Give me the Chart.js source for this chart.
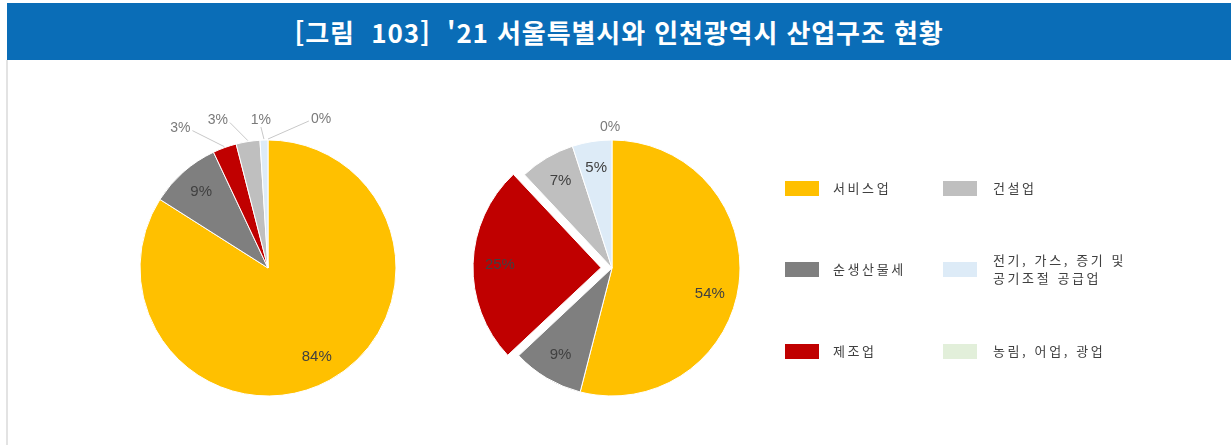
<!DOCTYPE html>
<html lang="ko">
<head>
<meta charset="utf-8">
<title>'21 서울특별시와 인천광역시 산업구조 현황</title>
<script src="https://cdn.jsdelivr.net/npm/chart.js@4.4.1/dist/chart.umd.min.js"></script>
<style>
  html, body { margin: 0; padding: 0; background: #ffffff; }
  #page { position: relative; width: 1231px; height: 445px; overflow: hidden; background: #fff; }
  #header {
    position: absolute; left: 7px; top: 3px; width: 1224px; height: 57px;
    background: #0a6db7; color: #fff;
    font-family: "Noto Sans CJK KR", "Noto Sans", sans-serif; font-weight: 700;
    font-size: 26px; line-height: 58px; text-align: center; white-space: pre;
    letter-spacing: 0.9px;
  }
  #rule { position: absolute; left: 6px; top: 60px; width: 2px; height: 385px; background: #e3e3e3; }
  canvas { position: absolute; }
  #cvSeoul { left: 28px; top: 60px; }
  #cvIncheon { left: 460px; top: 60px; }
  #legend { position: absolute; left: 0; top: 0; width: 1231px; height: 445px; pointer-events: none;
    font-family: "Noto Sans CJK KR", sans-serif; font-size: 13px; color: #404040; letter-spacing: 2.6px; }
  .sw { position: absolute; width: 34px; height: 15px; }
  .lt { position: absolute; line-height: 18px; white-space: nowrap; }
</style>
</head>
<body>
<div id="page">
  <div id="header"></div>
  <div id="rule"></div>
  <canvas id="cvSeoul" width="480" height="385"></canvas>
  <canvas id="cvIncheon" width="304" height="385"></canvas>
  <div id="legend"></div>
</div>
<script>
// Title
const chartTitle = "[그림  103]  '21 서울특별시와 인천광역시 산업구조 현황";

// Industry categories (pie order, clockwise from 12 o'clock)
const industries = [
  "서비스업",
  "순생산물세",
  "제조업",
  "건설업",
  "전기, 가스, 증기 및\n공기조절 공급업",
  "농림, 어업, 광업"
];

// Share of each industry (%)
const seoulShares   = [84, 9, 3, 3, 1, 0];
const incheonShares = [54, 9, 25, 7, 5, 0];

// Slice colours, one per industry
const sliceColors = ["#FFC000", "#7F7F7F", "#C00000", "#BFBFBF", "#DDEBF7", "#E2EFDA"];

document.getElementById('header').textContent = chartTitle;

// Draws the percentage labels: inside the slice for large shares,
// outside with a thin leader line for the small ones.
const sliceLabels = {
  id: 'sliceLabels',
  afterDatasetsDraw(chart, args, opts) {
    const ctx = chart.ctx;
    const meta = chart.getDatasetMeta(0);
    const values = chart.data.datasets[0].data;
    ctx.save();
    ctx.textAlign = 'center';
    ctx.textBaseline = 'middle';
    meta.data.forEach((arc, i) => {
      const p = arc.getProps(['x', 'y', 'startAngle', 'endAngle', 'outerRadius'], true);
      const mid = (p.startAngle + p.endAngle) / 2;
      const circ = p.endAngle - p.startAngle;
      const offs = (arc.options.offset || 0) / 4;
      const fix = 1 - Math.sin(Math.min(Math.PI, circ || 0));
      const shift = offs + offs * fix;
      const cx = p.x + Math.cos(mid) * shift;
      const cy = p.y + Math.sin(mid) * shift;
      const text = values[i] + '%';
      const out = opts.outside && opts.outside[i];
      if (out) {
        const ax = cx + Math.cos(mid) * (p.outerRadius + 1);
        const ay = cy + Math.sin(mid) * (p.outerRadius + 1);
        const lx = ax + out.dx, ly = ay + out.dy;
        ctx.font = opts.outFont;
        const w = ctx.measureText(text).width;
        if (out.leader) {
          let ex, ey;
          if (out.dx < -6) { ex = lx + w / 2 + 2; ey = ly + 2; }
          else if (out.dx > 6) { ex = lx - w / 2 - 2; ey = ly + 2; }
          else { ex = lx; ey = ly + 7; }
          ctx.strokeStyle = opts.leaderColor;
          ctx.lineWidth = 1;
          ctx.beginPath();
          ctx.moveTo(ex, ey);
          ctx.lineTo(ax, ay);
          ctx.stroke();
        }
        ctx.fillStyle = opts.outColor;
        ctx.fillText(text, lx, ly);
      } else if (values[i] > 0) {
        const r = p.outerRadius * opts.inside;
        const a = mid + (opts.turn && opts.turn[i] ? opts.turn[i] : 0);
        ctx.font = opts.inFont;
        ctx.fillStyle = opts.inColor;
        ctx.fillText(text, cx + Math.cos(a) * r, cy + Math.sin(a) * r);
      }
    });
    ctx.restore();
  }
};

const labelStyle = {
  inside: 0.79,
  inFont: '15px "Liberation Sans", Arial, sans-serif',
  inColor: '#404040',
  outFont: '14px "Liberation Sans", Arial, sans-serif',
  outColor: '#7a7a7a',
  leaderColor: '#c8c8c8'
};

function makePie(id, shares, offsets, outside, turn, padding) {
  return new Chart(document.getElementById(id), {
    type: 'pie',
    data: {
      labels: industries,
      datasets: [{
        data: shares,
        backgroundColor: sliceColors,
        borderColor: '#ffffff',
        borderWidth: 1,
        offset: offsets,
        radius: 128
      }]
    },
    options: {
      responsive: false,
      animation: false,
      layout: { padding: padding },
      plugins: {
        legend: { display: false },
        tooltip: { enabled: false },
        sliceLabels: Object.assign({ outside: outside, turn: turn }, labelStyle)
      },
      events: []
    },
    plugins: [sliceLabels]
  });
}

// Seoul: small slices labelled outside the pie
makePie('cvSeoul', seoulShares, [0, 0, 0, 0, 0, 0], {
  2: { dx: -44, dy: -18, leader: true },
  3: { dx: -30, dy: -20, leader: true },
  4: { dx: -3,  dy: -19, leader: true },
  5: { dx: 53,  dy: -20, leader: true }
}, null, { top: 31, bottom: 0, left: 0, right: 0 });

// Incheon: manufacturing slice pulled out of the pie
makePie('cvIncheon', incheonShares, [0, 0, 44, 0, 0, 0], {
  5: { dx: -2, dy: -12, leader: false }
}, { 0: 0.13 }, { top: 31, bottom: 0, left: 0, right: 0 });

// Legend: two columns, filled column by column
const legend = document.getElementById('legend');
const colX = [785, 943];
const rowY = [188, 269, 351];
industries.forEach((name, i) => {
  const col = Math.floor(i / 3), row = i % 3;
  const sw = document.createElement('div');
  sw.className = 'sw';
  sw.style.left = colX[col] + 'px';
  sw.style.top = (rowY[row] - 7) + 'px';
  sw.style.background = sliceColors[i];
  legend.appendChild(sw);
  const lines = name.split('\n');
  const t = document.createElement('div');
  t.className = 'lt';
  t.style.left = (colX[col] + 48 + col * 2) + 'px';
  t.style.top = (rowY[row] - lines.length * 9) + 'px';
  t.innerHTML = lines.join('<br>');
  legend.appendChild(t);
});
</script>
</body>
</html>
